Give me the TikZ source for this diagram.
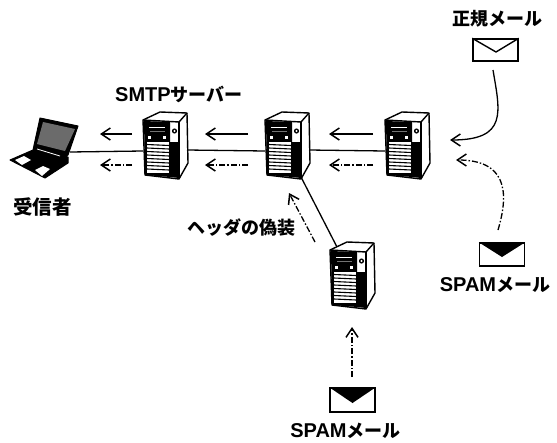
\documentclass[tikz,border=0pt]{standalone}
\usepackage{fontspec}
\setmainfont{Liberation Sans}
\newfontfamily\jpfont{Noto Sans CJK JP}
\newfontfamily\latfont{Liberation Sans}
\newcommand{\lat}[1]{{\latfont\bfseries\fontsize{20}{20}\selectfont #1}}
\usetikzlibrary{arrows.meta}
\tikzset{
  x=1pt,y=-1pt,
  lbl/.style={font=\jpfont\bfseries\fontsize{18}{18}\selectfont,inner sep=0pt,text=black},
  wire/.style={line width=1.3pt,black},
  openarrow/.style={line width=1.3pt,black,-{Straight Barb[length=9pt,width=12pt,line width=1.5pt]}},
  solidflow/.style={openarrow},
  dashflow/.style={openarrow,dash pattern=on 6pt off 2pt on 1.5pt off 2pt},
  ghost/.style={inner sep=0pt,minimum width=44pt,minimum height=68pt},
  envline/.style={line width=1.4pt,black,line join=round},
  envbox/.style={draw=black,line width=1.4pt,fill=white,inner sep=0pt,minimum width=45pt},
}
\newcommand{\serverat}[3]{%
  \node[ghost] (#1) at (#2+22,#3+34) {};
  \begin{scope}[shift={(#2,#3)}]
    \filldraw[fill=white,draw=black,line width=1.4pt,line join=round]
      (0,8) -- (17,0) -- (44,1) -- (45,51) -- (36,67) -- (2,63) -- cycle;
    \draw[line width=1.4pt] (0,8) -- (36,10) -- (44,1);
    \draw[line width=1.4pt] (36,10) -- (36,67);
    \fill[black] (1,9) -- (27,10) -- (27,65) -- (2,63) -- cycle;
    \fill[black] (27,30) -- (36,30) -- (36,66) -- (27,65) -- cycle;
    \fill[white] (28,12) rectangle (35,30);
    \fill[black] (31.5,19) circle (2.6);
    \fill[white] (31.5,19) circle (1.1);
    \fill[white] (4,30) rectangle (26,61);
    \foreach \yy in {32.5,36,39.5,43,46.5,50,53.5,57}
      \draw[black,line width=1.1pt] (4,\yy) -- (26,\yy+1);
    \draw[white,line width=.7pt] (6,15) -- (22,15);
    \draw[black!55,line width=.7pt] (7,19) -- (22,19);
    \fill[white] (5,24) rectangle (8,27);
    \fill[white] (20,24) rectangle (23,27);
    \coordinate (#1-l) at (0,39);
    \coordinate (#1-r) at (44,38);
    \coordinate (#1-bl) at (36,65);
    \coordinate (#1-t) at (7,5);
  \end{scope}}
\begin{document}
\begin{tikzpicture}
\useasboundingbox (0,0) rectangle (557,442);
% laptop
\node[inner sep=0pt,minimum width=68pt,minimum height=62pt] (laptop) at (44,147) {};
\coordinate (laptopr) at (70,152);
\filldraw[fill=black,draw=black,line width=1pt,line join=round]
  (40,118) -- (78,126) -- (68,155) -- (60,160) -- (33,150) -- cycle;
\fill[black!58] (43,122) -- (75,129) -- (65,151) -- (37,144) -- cycle;
\filldraw[fill=black,draw=black,line width=1pt,line join=round]
  (33,150) -- (68,157) -- (68,163) -- (45,178) -- (10,160) -- cycle;
\fill[white] (15,160) -- (24,156) -- (31,160) -- (22,165) -- cycle;
\fill[white] (35,170) -- (43,166) -- (50,169) -- (42,176) -- cycle;
\draw[white,line width=.8pt] (37,149) -- (60,156);
% servers
\serverat{sa}{143}{112}
\serverat{sb}{265}{112}
\serverat{sc}{385}{112}
\serverat{sd}{330}{242}
% wires
\draw[wire] (laptopr) -- (sa-l);
\draw[wire] (sa-r) -- (sb-l);
\draw[wire] (sb-r) -- (sc-l);
\draw[wire] (sb-bl) -- (sd-t);
% flow arrows
\coordinate (a1s) at (132,134); \coordinate (a1e) at (100,134);
\coordinate (a2s) at (132,165); \coordinate (a2e) at (100,165);
\coordinate (b1s) at (248,134); \coordinate (b1e) at (205,134);
\coordinate (b2s) at (248,165); \coordinate (b2e) at (205,165);
\coordinate (c1s) at (373,134); \coordinate (c1e) at (329,134);
\coordinate (c2s) at (373,165); \coordinate (c2e) at (329,165);
\draw[solidflow] (a1s) -- (a1e);
\draw[dashflow] (a2s) -- (a2e);
\draw[solidflow] (b1s) -- (b1e);
\draw[dashflow] (b2s) -- (b2e);
\draw[solidflow] (c1s) -- (c1e);
\draw[dashflow] (c2s) -- (c2e);
% envelopes
\node[envbox,minimum height=22pt] (legit) at (495.5,50) {};
\draw[envline] (legit.north west) -- (496,52) -- (legit.north east);
\node[envbox,minimum height=23pt] (spamr) at (502,254.5) {};
\fill[black] (spamr.north west) -- (502,257) -- (spamr.north east) -- cycle;
\node[envbox,minimum height=24pt] (spamb) at (352.5,400) {};
\fill[black] (spamb.north west) -- (352.5,403) -- (spamb.north east) -- cycle;
% mail arrows
\draw[solidflow] (493,70) .. controls (500,112) and (508,140) .. (450,140);
\draw[dashflow] (498,230) .. controls (510,190) and (505,160) .. (456,160);
\draw[dashflow] (352,377) -- (352,327);
\draw[dashflow] (315,242) -- (289,193);
% labels
\node[lbl] (l1) at (497,19) {正規メール};
\node[lbl,anchor=west] (l2) at (115,94) {\lat{SMTP}サーバー};
\node[lbl,font=\jpfont\bfseries\fontsize{19.5}{20}\selectfont] (l3) at (42.5,207) {受信者};
\node[lbl] (l4) at (241,228) {ヘッダの偽装};
\node[lbl] (l5) at (495,285) {\lat{SPAM}メール};
\node[lbl] (l6) at (345.5,431) {\lat{SPAM}メール};
\end{tikzpicture}
\end{document}
